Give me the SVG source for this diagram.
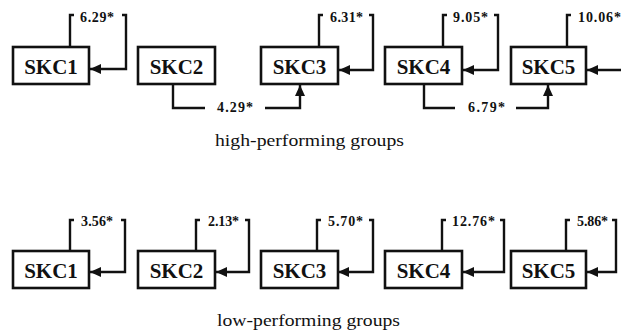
<svg xmlns="http://www.w3.org/2000/svg" width="621" height="334" viewBox="0 0 621 334">
<style>
.box{fill:#fff;stroke:#111;stroke-width:2.6}
.nl{font-family:"Liberation Serif",serif;font-weight:bold;font-size:21px;fill:#111;text-anchor:middle}
.el{font-family:"Liberation Serif",serif;font-weight:bold;font-size:14px;fill:#111}
.cap{font-family:"Liberation Serif",serif;font-size:17px;fill:#111;text-anchor:middle}
.ln{fill:none;stroke:#111;stroke-width:2.4}
.ar{fill:none;stroke:#111;stroke-width:2.4;marker-end:url(#ah)}
</style>
<defs>
<marker id="ah" markerUnits="userSpaceOnUse" markerWidth="12" markerHeight="12" viewBox="0 0 12 12" refX="11" refY="6" orient="auto">
<path d="M0,1 L11,6 L0,11 Z" fill="#111"/>
</marker>
</defs>
<g id="connectors">
<!-- top row self loops -->
<path class="ln" d="M70,47 V15 H74"/>
<path class="ar" d="M122,15 H126 V69 H90"/>
<text class="el" x="80" y="22" textLength="34">6.29*</text>
<path class="ln" d="M319,47 V15 H323"/>
<path class="ar" d="M369,15 H373 V70 H339"/>
<text class="el" x="330" y="22" textLength="33">6.31*</text>
<path class="ln" d="M443,47 V15 H447"/>
<path class="ar" d="M494,15 H498 V70 H463"/>
<text class="el" x="453" y="22" textLength="35">9.05*</text>
<path class="ln" d="M567,47 V15 H571"/>
<path class="ar" d="M621,70 H587"/>
<text class="el" x="578" y="22" textLength="43">10.06*</text>
<!-- top row cross -->
<path class="ln" d="M173,84 V108 H205"/>
<path class="ar" d="M265,108 H300 V85"/>
<text class="el" x="217" y="112" textLength="36">4.29*</text>
<path class="ln" d="M424,84 V108 H455"/>
<path class="ar" d="M516,108 H548 V85"/>
<text class="el" x="468" y="112" textLength="37">6.79*</text>
<!-- bottom row self loops -->
<path class="ln" d="M70,251 V220 H74"/>
<path class="ar" d="M121,220 H125 V272 H90"/>
<text class="el" x="81" y="226" textLength="32">3.56*</text>
<path class="ln" d="M196,251 V220 H200"/>
<path class="ar" d="M245,220 H249 V272 H216"/>
<text class="el" x="208" y="226" textLength="31">2.13*</text>
<path class="ln" d="M317,251 V220 H321"/>
<path class="ar" d="M369,220 H373 V272 H338"/>
<text class="el" x="328" y="226" textLength="35">5.70*</text>
<path class="ln" d="M442,251 V220 H446"/>
<path class="ar" d="M500,220 H504 V272 H463"/>
<text class="el" x="452" y="226" textLength="43">12.76*</text>
<path class="ln" d="M566,251 V220 H570"/>
<path class="ar" d="M612,220 H616 V272 H587"/>
<text class="el" x="577" y="226" textLength="31">5.86*</text>
</g>
<g id="t1"><rect class="box" x="13" y="47" width="76" height="37"/><text class="nl" x="51" y="74">SKC1</text></g>
<g id="t2"><rect class="box" x="138" y="47" width="77" height="37"/><text class="nl" x="176.5" y="74">SKC2</text></g>
<g id="t3"><rect class="box" x="261" y="47" width="77" height="37"/><text class="nl" x="299.5" y="74">SKC3</text></g>
<g id="t4"><rect class="box" x="385" y="47" width="77" height="37"/><text class="nl" x="423.5" y="74">SKC4</text></g>
<g id="t5"><rect class="box" x="511" y="47" width="75" height="37"/><text class="nl" x="548.5" y="74">SKC5</text></g>
<g id="b1"><rect class="box" x="13" y="251" width="76" height="37"/><text class="nl" x="51" y="278">SKC1</text></g>
<g id="b2"><rect class="box" x="138" y="251" width="77" height="37"/><text class="nl" x="176.5" y="278">SKC2</text></g>
<g id="b3"><rect class="box" x="261" y="251" width="77" height="37"/><text class="nl" x="299.5" y="278">SKC3</text></g>
<g id="b4"><rect class="box" x="385" y="251" width="77" height="37"/><text class="nl" x="423.5" y="278">SKC4</text></g>
<g id="b5"><rect class="box" x="511" y="251" width="75" height="37"/><text class="nl" x="548.5" y="278">SKC5</text></g>
<text class="cap" x="309.5" y="146" textLength="189" lengthAdjust="spacingAndGlyphs">high-performing groups</text>
<text class="cap" x="308.5" y="326" textLength="183" lengthAdjust="spacingAndGlyphs">low-performing groups</text>
</svg>
